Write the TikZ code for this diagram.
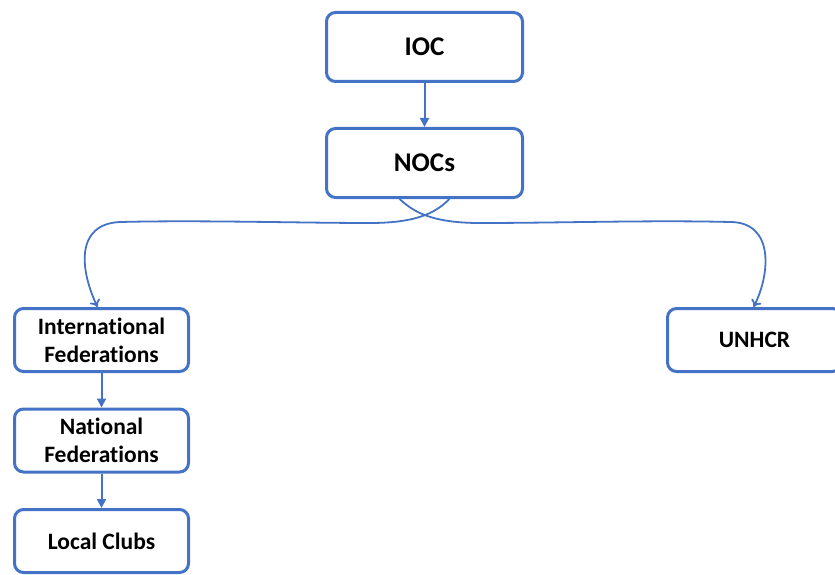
\documentclass[tikz,border=0pt]{standalone}
\usepackage[RGB]{xcolor}
\usepackage{fontspec}
\setmainfont{Carlito}[Ligatures=NoCommon]
\usepackage{tikz}
\usetikzlibrary{arrows.meta}
\definecolor{B}{RGB}{68,114,196}
\tikzset{
  orgbox/.style={draw=B, line width=3pt, rounded corners=9pt, fill=white,
    inner sep=0pt, align=center, font=\bfseries\fontsize{23.5}{28}\selectfont},
  bigbox/.style={orgbox, minimum width=196pt, minimum height=69pt, font=\bfseries\fontsize{27}{30}\selectfont},
  smallbox/.style={orgbox, minimum width=174pt, minimum height=63pt},
  straight/.style={draw=B, line width=2pt, -{Triangle[length=9pt,width=9pt]}},
  curvy/.style={draw=B, line width=1.8pt, -{To[length=7pt,width=11pt]}}
}
\newcommand{\orgnode}[5]{\node[#1] (#2) at (#3,#4) {#5};}
\begin{document}
\begin{tikzpicture}[x=1pt,y=-1pt]
\useasboundingbox (0,0) rectangle (835,575);
\orgnode{bigbox}{ioc}{424.5}{47}{IOC}
\orgnode{bigbox}{nocs}{424.5}{163}{NOCs}
\orgnode{smallbox}{intfed}{101.5}{340}{International\\Federations}
\orgnode{smallbox}{natfed}{101.5}{440.5}{National\\Federations}
\orgnode{smallbox}{clubs}{101.5}{541}{Local Clubs}
\orgnode{smallbox}{unhcr}{754.5}{340}{UNHCR}
\draw[straight] (ioc) -- (nocs);
\draw[straight] (intfed) -- (natfed);
\draw[straight] (natfed) -- (clubs);
% bracket-like links out of NOCs
\draw[curvy] ([xshift=25pt]nocs.south) .. controls (438,210) and (422,223) .. (370,223)
  .. controls (300,223) and (200,220) .. (120,222) .. controls (75,224) and (80,270) .. ([xshift=-4pt]intfed.north);
\draw[curvy] ([xshift=-25pt]nocs.south) .. controls (412,210) and (428,223) .. (480,223)
  .. controls (560,223) and (650,220) .. (730,222) .. controls (775,222) and (770,275) .. ([xshift=-1pt]unhcr.north);
\end{tikzpicture}
\end{document}
